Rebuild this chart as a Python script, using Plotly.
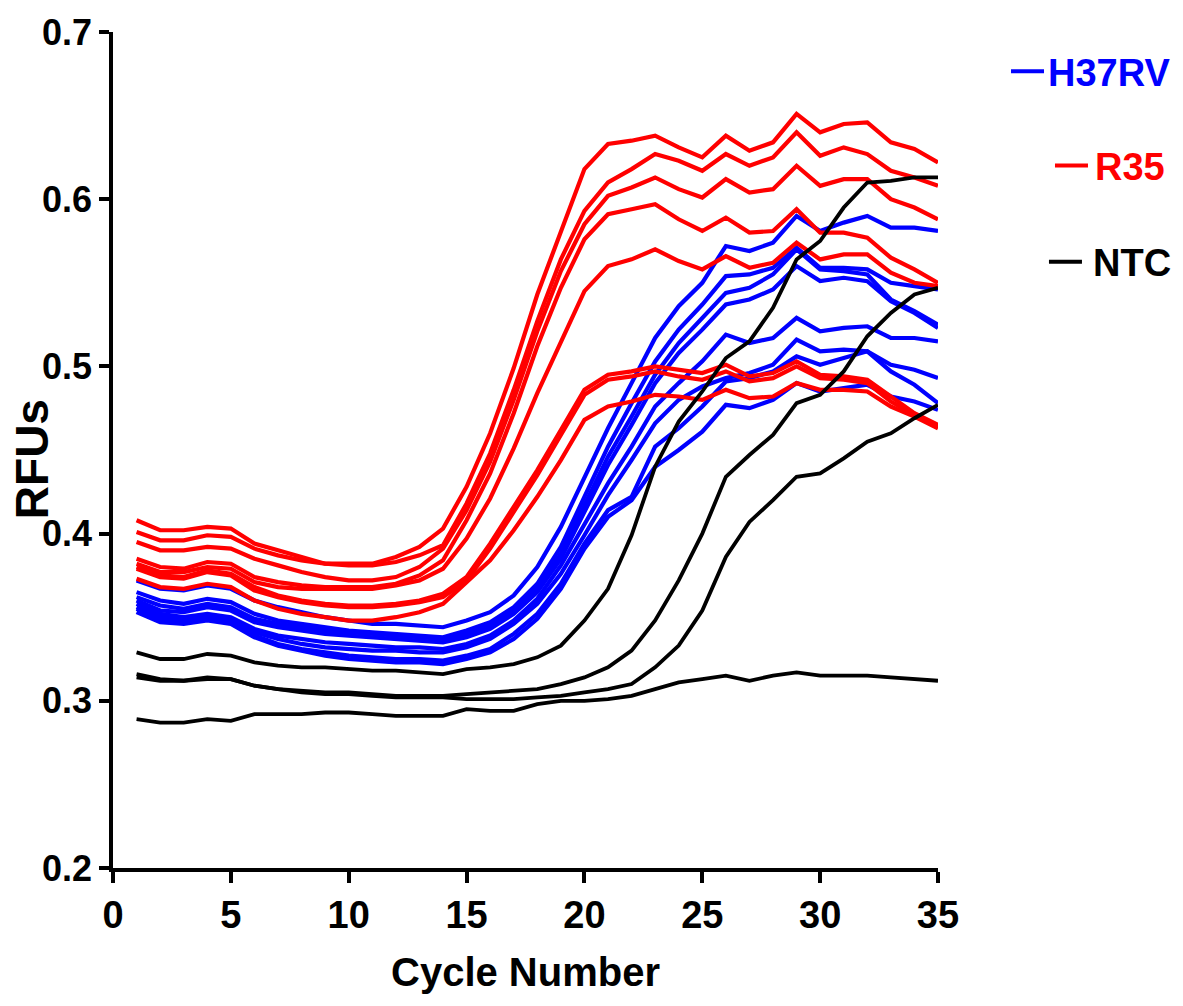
import plotly.graph_objects as go

cycles = [1, 2, 3, 4, 5, 6, 7, 8, 9, 10, 11, 12, 13, 14, 15, 16, 17, 18,
          19, 20, 21, 22, 23, 24, 25, 26, 27, 28, 29, 30, 31, 32, 33, 34, 35]

# R35 wells
r35_1 = [0.408, 0.402, 0.402, 0.404, 0.403, 0.394, 0.390, 0.386, 0.382, 0.382, 0.382, 0.386, 0.392, 0.403,
         0.428, 0.460, 0.499, 0.543, 0.581, 0.618, 0.633, 0.635, 0.638,
         0.631, 0.625, 0.638, 0.629, 0.634, 0.651, 0.640, 0.645, 0.646, 0.634, 0.630, 0.622]
r35_2 = [0.401, 0.396, 0.396, 0.399, 0.398, 0.391, 0.387, 0.384, 0.382, 0.381, 0.381, 0.383, 0.387, 0.393,
         0.418, 0.448, 0.486, 0.527, 0.564, 0.593, 0.610, 0.618, 0.627,
         0.623, 0.617, 0.627, 0.620, 0.625, 0.640, 0.626, 0.631, 0.627, 0.617, 0.613, 0.608]
r35_3 = [0.395, 0.390, 0.390, 0.392, 0.391, 0.385, 0.381, 0.377, 0.374, 0.372, 0.372, 0.374, 0.380, 0.391,
         0.414, 0.443, 0.480, 0.521, 0.557, 0.585, 0.602, 0.607, 0.613,
         0.606, 0.601, 0.612, 0.604, 0.606, 0.620, 0.608, 0.612, 0.612, 0.600, 0.595, 0.588]
r35_4 = [0.385, 0.380, 0.379, 0.383, 0.382, 0.374, 0.371, 0.369, 0.368, 0.368, 0.368, 0.370, 0.375, 0.384,
         0.408, 0.436, 0.472, 0.512, 0.547, 0.576, 0.591, 0.594, 0.597,
         0.588, 0.581, 0.589, 0.580, 0.581, 0.594, 0.580, 0.580, 0.577, 0.565, 0.558, 0.550]
r35_5 = [0.382, 0.377, 0.377, 0.380, 0.379, 0.371, 0.368, 0.367, 0.367, 0.367, 0.367, 0.369, 0.372, 0.379,
         0.397, 0.421, 0.451, 0.484, 0.515, 0.545, 0.560, 0.564, 0.570,
         0.563, 0.558, 0.566, 0.559, 0.562, 0.574, 0.564, 0.567, 0.567, 0.556, 0.550, 0.548]
r35_6 = [0.380, 0.375, 0.374, 0.378, 0.376, 0.368, 0.363, 0.360, 0.358, 0.357, 0.357, 0.358, 0.360, 0.364,
         0.374, 0.394, 0.416, 0.438, 0.462, 0.486, 0.495, 0.497, 0.500,
         0.498, 0.496, 0.501, 0.494, 0.496, 0.503, 0.495, 0.494, 0.492, 0.482, 0.472, 0.465]
r35_7 = [0.379, 0.374, 0.373, 0.377, 0.375, 0.366, 0.362, 0.359, 0.357, 0.356, 0.356, 0.357, 0.359, 0.362,
         0.372, 0.391, 0.413, 0.435, 0.459, 0.483, 0.492, 0.494, 0.497,
         0.494, 0.492, 0.497, 0.491, 0.493, 0.500, 0.493, 0.492, 0.490, 0.479, 0.471, 0.464]
r35_8 = [0.373, 0.368, 0.367, 0.370, 0.368, 0.360, 0.355, 0.352, 0.350, 0.348, 0.348, 0.350, 0.353, 0.358,
         0.371, 0.384, 0.402, 0.422, 0.444, 0.468, 0.476, 0.479, 0.483,
         0.482, 0.480, 0.486, 0.481, 0.482, 0.490, 0.486, 0.486, 0.485, 0.476, 0.470, 0.463]

# H37RV wells
h37_1 = [0.372, 0.367, 0.366, 0.369, 0.367, 0.360, 0.356, 0.353, 0.350, 0.348, 0.346, 0.346, 0.345, 0.344,
         0.348, 0.353, 0.363, 0.380, 0.404, 0.434, 0.463, 0.490, 0.517, 0.536, 0.550, 0.572,
         0.569, 0.574, 0.590, 0.581, 0.586, 0.590, 0.583, 0.583, 0.581]
h37_2 = [0.365, 0.360, 0.358, 0.361, 0.359, 0.352, 0.348, 0.346, 0.344, 0.342, 0.341, 0.340, 0.339, 0.338,
         0.342, 0.347, 0.356, 0.370, 0.392, 0.422, 0.452, 0.478, 0.503, 0.522, 0.537, 0.554,
         0.555, 0.559, 0.571, 0.559, 0.559, 0.558, 0.550, 0.548, 0.546]
h37_3 = [0.362, 0.357, 0.355, 0.358, 0.356, 0.349, 0.346, 0.344, 0.342, 0.341, 0.340, 0.339, 0.338, 0.337,
         0.340, 0.345, 0.354, 0.367, 0.388, 0.417, 0.446, 0.470, 0.495, 0.514, 0.529, 0.544,
         0.547, 0.555, 0.570, 0.558, 0.557, 0.555, 0.540, 0.533, 0.525]
h37_4 = [0.360, 0.354, 0.353, 0.356, 0.354, 0.347, 0.344, 0.342, 0.340, 0.339, 0.338, 0.337, 0.336, 0.335,
         0.338, 0.343, 0.352, 0.365, 0.385, 0.413, 0.441, 0.465, 0.490, 0.508, 0.522, 0.537,
         0.540, 0.546, 0.560, 0.551, 0.553, 0.551, 0.539, 0.532, 0.523]
h37_5 = [0.358, 0.352, 0.350, 0.352, 0.350, 0.343, 0.339, 0.337, 0.335, 0.334, 0.333, 0.332, 0.332, 0.331,
         0.334, 0.339, 0.348, 0.361, 0.381, 0.405, 0.430, 0.452, 0.476, 0.490, 0.503, 0.519,
         0.514, 0.517, 0.529, 0.521, 0.523, 0.524, 0.517, 0.517, 0.515]
h37_6 = [0.356, 0.350, 0.348, 0.350, 0.348, 0.341, 0.337, 0.334, 0.332, 0.331, 0.330, 0.330, 0.329, 0.329,
         0.332, 0.337, 0.346, 0.358, 0.376, 0.399, 0.423, 0.444, 0.466, 0.480, 0.488, 0.493,
         0.496, 0.501, 0.516, 0.509, 0.510, 0.509, 0.501, 0.498, 0.493]
h37_7 = [0.355, 0.349, 0.347, 0.349, 0.347, 0.339, 0.334, 0.331, 0.329, 0.327, 0.326, 0.325, 0.325, 0.324,
         0.327, 0.331, 0.340, 0.352, 0.370, 0.394, 0.414, 0.422, 0.452, 0.463, 0.476, 0.491,
         0.493, 0.497, 0.506, 0.501, 0.505, 0.509, 0.497, 0.489, 0.478]
h37_8 = [0.353, 0.347, 0.346, 0.348, 0.346, 0.338, 0.333, 0.330, 0.327, 0.325, 0.324, 0.323, 0.323, 0.322,
         0.325, 0.329, 0.337, 0.349, 0.367, 0.391, 0.410, 0.420, 0.440, 0.450, 0.461, 0.477,
         0.475, 0.480, 0.490, 0.485, 0.487, 0.489, 0.482, 0.479, 0.474]

# no-template controls
ntc_1 = [0.289, 0.287, 0.287, 0.289, 0.288, 0.292, 0.292, 0.292, 0.293, 0.293, 0.292, 0.291, 0.291, 0.291,
         0.295, 0.294, 0.294, 0.298, 0.300, 0.300, 0.301, 0.303, 0.307, 0.311, 0.313, 0.315, 0.312,
         0.315, 0.317, 0.315, 0.315, 0.315, 0.314, 0.313, 0.312]
ntc_2 = [0.316, 0.313, 0.312, 0.314, 0.313, 0.309, 0.307, 0.306, 0.305, 0.305, 0.304, 0.303, 0.303, 0.303,
         0.304, 0.305, 0.306, 0.307, 0.310, 0.314, 0.320, 0.330, 0.348, 0.372, 0.400, 0.434, 0.447,
         0.459, 0.478, 0.483, 0.497, 0.518, 0.532, 0.543, 0.547]
ntc_3 = [0.314, 0.312, 0.312, 0.313, 0.313, 0.309, 0.307, 0.305, 0.304, 0.304, 0.303, 0.302, 0.302, 0.302,
         0.301, 0.301, 0.301, 0.302, 0.303, 0.305, 0.307, 0.310, 0.320, 0.333, 0.354, 0.386, 0.407,
         0.420, 0.434, 0.436, 0.445, 0.455, 0.460, 0.469, 0.477]
ntc_4 = [0.329, 0.325, 0.325, 0.328, 0.327, 0.323, 0.321, 0.320, 0.320, 0.319, 0.318, 0.318, 0.317, 0.316,
         0.319, 0.320, 0.322, 0.326, 0.333, 0.348, 0.367, 0.399, 0.440, 0.467, 0.485, 0.505, 0.515,
         0.535, 0.564, 0.575, 0.595, 0.610, 0.611, 0.613, 0.613]

groups = [
    ("H37RV", "#0000ff", [h37_1, h37_2, h37_3, h37_4, h37_5, h37_6, h37_7, h37_8], 4.2),
    ("R35", "#ff0000", [r35_1, r35_2, r35_3, r35_4, r35_5, r35_6, r35_7, r35_8], 4.2),
    ("NTC", "#000000", [ntc_1, ntc_2, ntc_3, ntc_4], 3.8),
]

y_ticks = [0.2, 0.3, 0.4, 0.5, 0.6, 0.7]
x_ticks = [0, 5, 10, 15, 20, 25, 30, 35]

WIDE = "Liberation Sans"
NARROW = "Liberation Sans Narrow, Liberation Sans"

fig = go.Figure()
for name, color, curves, lw in groups:
    for ys in curves:
        fig.add_trace(go.Scatter(
            x=cycles, y=ys, mode="lines", name=name, legendgroup=name,
            showlegend=False, line=dict(color=color, width=lw),
        ))

# legend drawn as right-aligned labels with a short line sample
legend_items = [
    ("H37RV", "#0000ff", 0.9511, 1.2836, 1.0885, 1.1285),
    ("R35", "#ff0000", 0.8383, 1.2776, 1.1418, 1.1818),
    ("NTC", "#000000", 0.7232, 1.2844, 1.1345, 1.1745),
]
for label, color, yc, xr, lx0, lx1 in legend_items:
    fig.add_annotation(
        xref="paper", yref="paper", x=xr, y=yc, xanchor="right", yanchor="middle",
        text=label, showarrow=False,
        font=dict(family=NARROW, size=38, color=color, weight="bold"),
    )
    fig.add_shape(
        type="line", xref="paper", yref="paper", x0=lx0, x1=lx1, y0=yc + 0.002, y1=yc + 0.002,
        line=dict(color=color, width=4),
    )

fig.add_annotation(
    xref="paper", yref="paper", x=-0.0982, y=0.489, textangle=-90,
    text="RFUs", showarrow=False, xanchor="center", yanchor="middle",
    font=dict(family=WIDE, size=46, color="black", weight="bold"),
)
fig.add_annotation(
    xref="paper", yref="paper", x=0.4994, y=-0.124,
    text="Cycle Number", showarrow=False, xanchor="center", yanchor="middle",
    font=dict(family=NARROW, size=40, color="black", weight="bold"),
)

fig.update_layout(
    width=1183, height=1006,
    margin=dict(l=113, r=245, t=30, b=138),
    paper_bgcolor="white", plot_bgcolor="white",
    showlegend=False,
)
fig.update_xaxes(
    range=[0, 35], tickvals=x_ticks, ticktext=[str(v) for v in x_ticks],
    ticks="outside", ticklen=11, tickwidth=3.5, tickcolor="black",
    showline=True, linecolor="black", linewidth=3.5,
    showgrid=False, zeroline=False,
    tickfont=dict(family=NARROW, size=38, color="black", weight="bold"),
)
fig.update_yaxes(
    range=[0.2, 0.7], tickvals=y_ticks, ticktext=["%.1f" % v for v in y_ticks],
    ticks="outside", ticklen=10, tickwidth=3.5, tickcolor="black",
    showline=True, linecolor="black", linewidth=3.5,
    showgrid=False, zeroline=False,
    tickfont=dict(family=WIDE, size=36, color="black", weight="bold"),
)

fig.write_html("out.html")
